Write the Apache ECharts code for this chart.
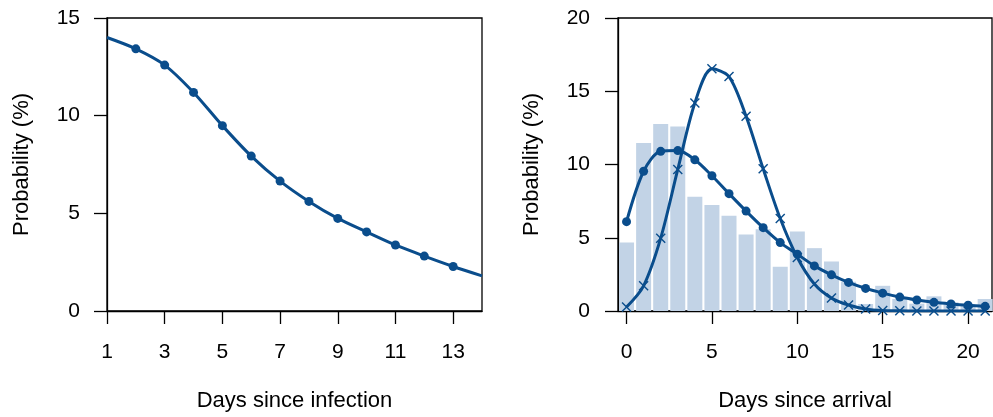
<!DOCTYPE html>
<html>
<head>
<meta charset="utf-8">
<script src="https://cdn.jsdelivr.net/npm/echarts@6/dist/echarts.min.js"></script>
<style>
html,body{margin:0;padding:0;background:#fff;}
#c{width:993px;height:417px;}
</style>
</head>
<body>
<div id="c"></div>
<script>
// Left panel: days since infection
var leftDays = [1,2,3,4,5,6,7,8,9,10,11,12,13,14];
var leftProb = [14.0,13.42,12.59,11.19,9.49,7.93,6.65,5.61,4.74,4.05,3.38,2.81,2.28,1.80];
var leftXTicks = [1,3,5,7,9,11,13];

// Right panel: days since arrival
var rightDays = [0,1,2,3,4,5,6,7,8,9,10,11,12,13,14,15,16,17,18,19,20,21];
var barProb   = [4.67,11.47,12.77,12.59,7.80,7.23,6.51,5.22,5.58,3.02,5.42,4.29,3.38,2.0,0.48,1.72,0.82,0.5,1.0,0.59,0.36,0.82];
var dotProb   = [6.10,9.54,10.9,10.95,10.32,9.23,8.01,6.82,5.69,4.67,3.88,3.08,2.47,1.95,1.54,1.22,0.95,0.75,0.59,0.48,0.39,0.32];
var crossProb = [0.27,1.72,4.97,9.66,14.2,16.53,16.0,13.29,9.71,6.31,3.65,1.84,0.88,0.41,0.14,0.03,0.01,0,0,0,0,0];
var rightXTicks = [0,5,10,15,20];

var LINE = '#0a4d8c';
var BAR = '#c2d3e6';
var FONT = 'Liberation Sans, Arial, sans-serif';
var CROSS = 'path://M1,0L5,4L9,0L10,1L6,5L10,9L9,10L5,6L1,10L0,9L4,5L0,1Z';
var SMOOTH = 0.3;

function zip(xs, ys) { return xs.map(function (x, i) { return [x, ys[i]]; }); }

var axisLineStyle = { show: true, onZero: false, lineStyle: { color: '#000', width: 1.3 } };
var tickStyle = { show: true, length: 13, lineStyle: { color: '#000', width: 1.3 } };
var labelStyle = { color: '#000', fontSize: 21, fontFamily: FONT };
var nameStyle = { color: '#000', fontSize: 22, fontFamily: FONT };

var leftData = zip(leftDays, leftProb).map(function (p, i, arr) {
  return (i === 0 || i === arr.length - 1) ? { value: p, symbol: 'none' } : p;
});

var option = {
  backgroundColor: '#fff',
  animation: false,
  grid: [
    { left: 107, top: 18, width: 375, height: 294, show: true, borderColor: '#000', borderWidth: 1.3, backgroundColor: 'transparent' },
    { left: 618, top: 18, width: 374, height: 294, show: true, borderColor: '#000', borderWidth: 1.3, backgroundColor: 'transparent' }
  ],
  xAxis: [
    {
      gridIndex: 0, type: 'value', min: 1, max: 14,
      name: 'Days since infection', nameLocation: 'middle', nameGap: 79, nameTextStyle: nameStyle,
      axisLine: axisLineStyle,
      axisTick: Object.assign({ customValues: leftXTicks }, tickStyle),
      axisLabel: Object.assign({ customValues: leftXTicks, margin: 31 }, labelStyle),
      splitLine: { show: false }
    },
    {
      gridIndex: 1, type: 'value', min: -0.5, max: 21.4,
      name: 'Days since arrival', nameLocation: 'middle', nameGap: 79, nameTextStyle: nameStyle,
      axisLine: axisLineStyle,
      axisTick: Object.assign({ customValues: rightXTicks }, tickStyle),
      axisLabel: Object.assign({ customValues: rightXTicks, margin: 31 }, labelStyle),
      splitLine: { show: false }
    }
  ],
  yAxis: [
    {
      gridIndex: 0, type: 'value', min: 0, max: 15, interval: 5,
      name: 'Probability (%)', nameLocation: 'middle', nameGap: 74, nameTextStyle: nameStyle,
      axisLine: axisLineStyle,
      axisTick: tickStyle,
      axisLabel: Object.assign({ margin: 27 }, labelStyle),
      splitLine: { show: false }
    },
    {
      gridIndex: 1, type: 'value', min: 0, max: 20, interval: 5,
      name: 'Probability (%)', nameLocation: 'middle', nameGap: 75, nameTextStyle: nameStyle,
      axisLine: axisLineStyle,
      axisTick: tickStyle,
      axisLabel: Object.assign({ margin: 28 }, labelStyle),
      splitLine: { show: false }
    }
  ],
  series: [
    {
      type: 'line', xAxisIndex: 0, yAxisIndex: 0,
      data: leftData, smooth: SMOOTH,
      symbol: 'circle', symbolSize: 9,
      lineStyle: { color: LINE, width: 3 },
      itemStyle: { color: LINE }
    },
    {
      type: 'bar', xAxisIndex: 1, yAxisIndex: 1,
      data: zip(rightDays, barProb), barWidth: 15,
      itemStyle: { color: BAR }
    },
    {
      type: 'line', xAxisIndex: 1, yAxisIndex: 1,
      data: zip(rightDays, dotProb), smooth: SMOOTH,
      symbol: 'circle', symbolSize: 9,
      lineStyle: { color: LINE, width: 3 },
      itemStyle: { color: LINE }
    },
    {
      type: 'line', xAxisIndex: 1, yAxisIndex: 1,
      data: zip(rightDays, crossProb), smooth: SMOOTH,
      symbol: CROSS, symbolSize: 10,
      lineStyle: { color: LINE, width: 3 },
      itemStyle: { color: LINE }
    }
  ]
};

var chart = echarts.init(document.getElementById('c'), null, { renderer: 'canvas' });
chart.setOption(option);
</script>
</body>
</html>
